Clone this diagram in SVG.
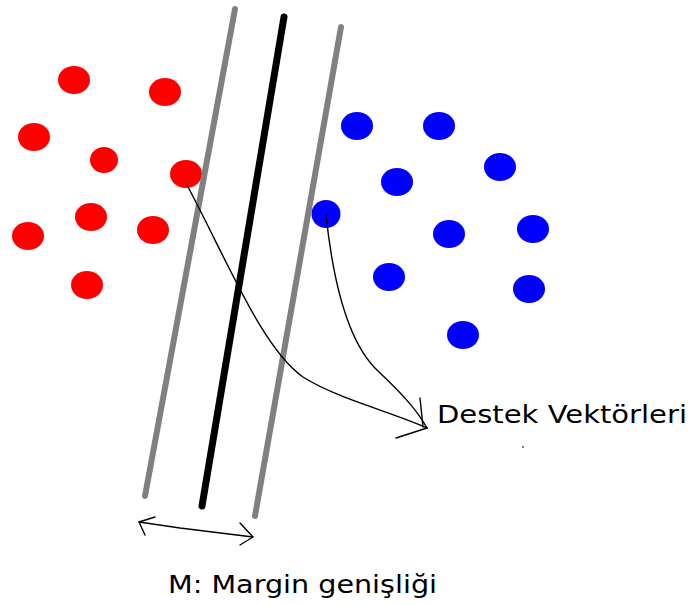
<svg xmlns="http://www.w3.org/2000/svg" width="692" height="605" viewBox="0 0 692 605">
  <style>
    .red { fill: #ff0000; }
    .blue { fill: #0000ff; }
    .margin { stroke: #808080; stroke-width: 6; stroke-linecap: round; fill: none; }
    .hyper { stroke: #000000; stroke-width: 7; stroke-linecap: round; fill: none; }
    .conn { stroke: #000000; stroke-width: 1.4; fill: none; stroke-linecap: round; stroke-linejoin: round; }
    .label { font-family: "Comic Sans MS", "DejaVu Sans", sans-serif; fill: #000000; font-size: 24px; }
  </style>
  <rect width="692" height="605" fill="#ffffff"/>

  <g id="red-points">
    <ellipse class="red" cx="74" cy="80" rx="16" ry="14"/>
    <ellipse class="red" cx="165" cy="92" rx="16" ry="14"/>
    <ellipse class="red" cx="34" cy="137" rx="16" ry="14"/>
    <ellipse class="red" cx="104" cy="160" rx="14" ry="13"/>
    <ellipse class="red" cx="186" cy="174" rx="16" ry="14"/>
    <ellipse class="red" cx="91" cy="217" rx="16" ry="14"/>
    <ellipse class="red" cx="28" cy="236" rx="16" ry="14"/>
    <ellipse class="red" cx="153" cy="230" rx="16" ry="14"/>
    <ellipse class="red" cx="87" cy="285" rx="16" ry="14"/>
  </g>

  <g id="blue-points">
    <ellipse class="blue" cx="357" cy="126" rx="16" ry="14"/>
    <ellipse class="blue" cx="439" cy="126" rx="16" ry="14"/>
    <ellipse class="blue" cx="500" cy="167" rx="16" ry="14"/>
    <ellipse class="blue" cx="397" cy="182" rx="16" ry="14"/>
    <ellipse class="blue" cx="326" cy="214" rx="14.5" ry="14"/>
    <ellipse class="blue" cx="449" cy="234" rx="16" ry="14"/>
    <ellipse class="blue" cx="533" cy="229" rx="16" ry="14"/>
    <ellipse class="blue" cx="389" cy="277" rx="16" ry="14"/>
    <ellipse class="blue" cx="529" cy="289" rx="16" ry="14"/>
    <ellipse class="blue" cx="463" cy="335" rx="16" ry="14"/>
  </g>

  <g id="separator-lines">
    <line class="margin" x1="235" y1="9" x2="145" y2="496"/>
    <line class="hyper" x1="284" y1="17" x2="202" y2="506"/>
    <line class="margin" x1="341" y1="27" x2="255" y2="516"/>
  </g>

  <g id="connectors">
    <path class="conn" d="M187,185 C228,262 262,348 303,377 C338,399 392,412 427,428"/>
    <path class="conn" d="M326,215 C334,290 350,345 378,371 C398,390 416,408 427,428"/>
    <path class="conn" d="M420,398 L423,427 M427,428 L396,438"/>
    <path class="conn" d="M139,522 L180,528 L253,537"/>
    <path class="conn" d="M155,517 L139,522 L145,535"/>
    <path class="conn" d="M240,523 L253,537 L240,545"/>
  </g>

  <g id="labels">
    <text class="label" x="437" y="423" textLength="250" lengthAdjust="spacingAndGlyphs">Destek Vektörleri</text>
    <text class="label" x="168" y="593" textLength="269" lengthAdjust="spacingAndGlyphs">M: Margin genişliği</text>
    <circle cx="523" cy="447" r="1" fill="#555555"/>
  </g>
</svg>
